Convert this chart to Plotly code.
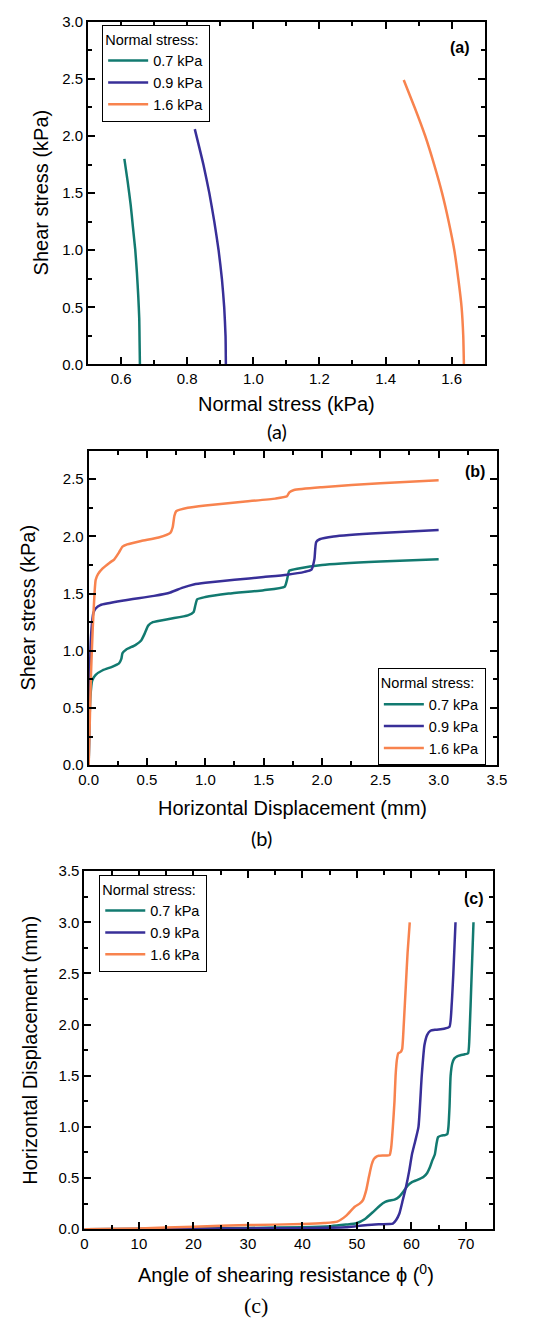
import plotly.graph_objects as go

W, H = 540, 1330
FONT = "Liberation Sans"

series_names = ["0.7 kPa", "0.9 kPa", "1.6 kPa"]
series_colors = ["#127a70", "#382f98", "#f8834e"]

# ---- (a) shear stress vs normal stress ----
a_normal_07 = [0.657, 0.656, 0.655, 0.652, 0.648, 0.643, 0.636, 0.629, 0.620, 0.610]
a_shear_07 = [0.0, 0.2, 0.4, 0.6, 0.8, 1.0, 1.2, 1.4, 1.6, 1.8]

a_normal_09 = [0.917, 0.916, 0.912, 0.905, 0.895, 0.882, 0.867, 0.849, 0.823]
a_shear_09 = [0.0, 0.25, 0.5, 0.75, 1.0, 1.25, 1.5, 1.75, 2.06]

a_normal_16 = [1.637, 1.635, 1.630, 1.620, 1.608, 1.591, 1.571, 1.547, 1.520, 1.488, 1.455]
a_shear_16 = [0.0, 0.25, 0.5, 0.75, 1.0, 1.25, 1.5, 1.75, 2.0, 2.25, 2.49]

# ---- (b) shear stress vs horizontal displacement ----
b_disp_07 = [0, 0.005, 0.015, 0.03, 0.06, 0.12, 0.2, 0.26, 0.28, 0.29, 0.32, 0.4,
             0.45, 0.48, 0.51, 0.55, 0.7, 0.85, 0.9, 0.915, 0.93, 1.0, 1.2, 1.5,
             1.68, 1.7, 1.72, 1.8, 2.0, 2.5, 3.0]
b_shear_07 = [0, 0.3, 0.6, 0.74, 0.79, 0.83, 0.86, 0.89, 0.93, 0.98, 1.01, 1.05,
              1.09, 1.15, 1.22, 1.25, 1.28, 1.31, 1.34, 1.40, 1.45, 1.47, 1.50, 1.53,
              1.56, 1.62, 1.70, 1.72, 1.75, 1.78, 1.80]

b_disp_09 = [0, 0.005, 0.01, 0.015, 0.025, 0.04, 0.06, 0.1, 0.3, 0.56, 0.7, 0.8,
             0.9, 1.0, 1.25, 1.5, 1.7, 1.85, 1.91, 1.935, 1.95, 1.98, 2.1, 2.5, 3.0]
b_shear_09 = [0, 0.4, 0.75, 1.0, 1.2, 1.33, 1.37, 1.40, 1.44, 1.48, 1.51, 1.55,
              1.58, 1.595, 1.62, 1.645, 1.665, 1.69, 1.71, 1.80, 1.95, 1.975, 2.0, 2.03, 2.055]

b_disp_16 = [0, 0.01, 0.02, 0.035, 0.05, 0.06, 0.08, 0.12, 0.18, 0.22, 0.26, 0.29,
             0.33, 0.45, 0.6, 0.70, 0.72, 0.735, 0.75, 0.85, 1.0, 1.3, 1.6, 1.70,
             1.72, 1.76, 2.0, 2.5, 3.0]
b_shear_16 = [0, 0.4, 0.8, 1.2, 1.5, 1.62, 1.67, 1.72, 1.77, 1.80, 1.86, 1.91,
              1.93, 1.96, 1.99, 2.03, 2.08, 2.18, 2.22, 2.25, 2.27, 2.30, 2.33, 2.35,
              2.385, 2.405, 2.43, 2.465, 2.49]

# ---- (c) horizontal displacement vs angle of shearing resistance ----
c_angle_07 = [0, 10, 20, 30, 40, 45.2, 48, 49.9, 51.5, 53, 54.2, 55.2, 56.0, 56.9,
              57.8, 58.7, 59.4, 60.1, 61.0, 62.2, 62.9, 63.4, 63.9, 64.3, 64.6, 64.9,
              65.5, 66.2, 66.6, 66.8, 67.0, 67.2, 67.5, 67.9, 68.4, 69.0, 69.8, 70.4,
              70.7, 71.0, 71.4]
c_disp_07 = [0, 0.003, 0.008, 0.012, 0.02, 0.03, 0.045, 0.058, 0.1, 0.17, 0.23, 0.267,
             0.28, 0.29, 0.32, 0.38, 0.43, 0.46, 0.48, 0.51, 0.55, 0.605, 0.68, 0.73,
             0.83, 0.9, 0.915, 0.92, 0.93, 1.0, 1.2, 1.5, 1.62, 1.67, 1.69, 1.70, 1.71,
             1.72, 1.95, 2.4, 3.0]

c_angle_09 = [0, 10, 20, 30, 40, 45, 48, 50, 52, 54, 56, 56.6, 57.2, 57.8, 58.4, 59.0,
              59.6, 60.1, 60.7, 61.3, 61.9, 62.4, 62.9, 63.5, 64.5, 66.0, 67.0, 67.4,
              67.7, 68.1]
c_disp_09 = [0, 0.002, 0.005, 0.008, 0.01, 0.015, 0.02, 0.03, 0.04, 0.048, 0.05, 0.055,
             0.09, 0.154, 0.28, 0.41, 0.57, 0.73, 0.86, 1.0, 1.5, 1.8, 1.9, 1.94, 1.95,
             1.96, 1.98, 2.2, 2.5, 3.0]

c_angle_16 = [0, 10, 20, 30, 40, 44, 46.4, 48, 49.6, 50.5, 51.1, 51.7, 52.2, 52.7, 53.1,
              53.6, 54.0, 55.0, 56.0, 56.3, 56.6, 56.9, 57.1, 57.35, 57.6, 58.0, 58.3,
              58.6, 59.0, 59.3, 59.7]
c_disp_16 = [0, 0.008, 0.025, 0.04, 0.05, 0.06, 0.074, 0.13, 0.22, 0.25, 0.283, 0.38,
             0.51, 0.63, 0.685, 0.71, 0.717, 0.72, 0.724, 0.80, 1.0, 1.25, 1.5, 1.66,
             1.72, 1.73, 1.76, 2.0, 2.4, 2.7, 3.0]

panels = [
    ("x", "y", "legend", [(a_normal_07, a_shear_07), (a_normal_09, a_shear_09), (a_normal_16, a_shear_16)]),
    ("x2", "y2", "legend2", [(b_disp_07, b_shear_07), (b_disp_09, b_shear_09), (b_disp_16, b_shear_16)]),
    ("x3", "y3", "legend3", [(c_angle_07, c_disp_07), (c_angle_09, c_disp_09), (c_angle_16, c_disp_16)]),
]

fig = go.Figure()
for xa, ya, lg, data in panels:
    for name, color, (xs, ys) in zip(series_names, series_colors, data):
        fig.add_trace(go.Scatter(
            x=xs, y=ys, name=name, mode="lines", xaxis=xa, yaxis=ya, legend=lg,
            line=dict(color=color, width=2.5, shape="spline", smoothing=0.5),
        ))


def fx(px):
    return px / W


def fy(py):
    return 1 - py / H


def axis(domain, rng, dtick, minor_dtick, anchor, fmt=None):
    d = dict(
        domain=domain, range=rng, dtick=dtick, tick0=0, anchor=anchor,
        showline=True, linecolor="black", linewidth=2, mirror="allticks",
        ticks="inside", ticklen=7, tickwidth=2, tickcolor="black",
        showgrid=False, zeroline=False,
        tickfont=dict(family=FONT, size=15, color="black"),
        minor=dict(ticks="inside", ticklen=4, tickwidth=2, tickcolor="black",
                   dtick=minor_dtick, tick0=0, showgrid=False),
    )
    if fmt:
        d["tickformat"] = fmt
    return d


dom_a = ([fx(81), fx(493)], [fy(360), fy(13)])
dom_b = ([fx(81.7), fx(505.7)], [fy(766), fy(447.3)])
dom_c = ([fx(77.3), fx(501.7)], [fy(1236), fy(873.3)])

LEG_SIZE = 14.5
legend_style = dict(
    bgcolor="white", bordercolor="black", borderwidth=1,
    font=dict(family=FONT, size=LEG_SIZE, color="black"),
    title=dict(text="Normal stress:", font=dict(family=FONT, size=LEG_SIZE, color="black")),
    xanchor="left", yanchor="top", tracegroupgap=0, itemwidth=40,
)

annotations = []


def text(x, y, s, size=20, family=FONT, angle=0, bold=False, xanchor="center"):
    if bold:
        s = "<b>" + s + "</b>"
    annotations.append(dict(
        x=fx(x), y=fy(y), xref="paper", yref="paper", text=s, showarrow=False,
        xanchor=xanchor, yanchor="middle", textangle=angle,
        font=dict(family=family, size=size, color="black"),
    ))


# axis titles
text(287, 400, "Normal stress (kPa)")
text(32, 186, "Shear stress (kPa)", angle=-90)
text(293.5, 809, "Horizontal Displacement (mm)")
text(19, 606, "Shear stress (kPa)", angle=-90)
text(287, 1281, "Angle of shearing resistance ϕ (<sup>0</sup>)")
text(20, 1055, "Horizontal Displacement (mm)", angle=-90)

# panel tags
text(467.5, 38.5, "(a)", size=16, bold=True)
text(482.5, 468.3, "(b)", size=16, bold=True)
text(481.7, 900.8, "(c)", size=16, bold=True)

# captions
text(277, 427, "(a)", size=20, family="Lato")
text(261, 840, "(b)", size=20, family="Lato")
text(255, 1313, "(c)", size=22, family="Liberation Serif")

fig.update_layout(
    width=W, height=H, margin=dict(l=0, r=0, t=0, b=0),
    paper_bgcolor="white", plot_bgcolor="white",
    xaxis=axis(dom_a[0], [0.5, 1.7], 0.2, 0.1, "y", ".1f"),
    yaxis=axis(dom_a[1], [0, 3.0], 0.5, 0.25, "x", ".1f"),
    xaxis2=axis(dom_b[0], [0, 3.5], 0.5, 0.25, "y2", ".1f"),
    yaxis2=axis(dom_b[1], [0, 2.75], 0.5, 0.25, "x2", ".1f"),
    xaxis3=axis(dom_c[0], [0, 75], 10, 5, "y3"),
    yaxis3=axis(dom_c[1], [0, 3.5], 0.5, 0.25, "x3", ".1f"),
    legend=dict(legend_style, x=fx(95.7), y=fy(16)),
    legend2=dict(legend_style, x=fx(382), y=fy(668)),
    legend3=dict(legend_style, x=fx(92.7), y=fy(877)),
    annotations=annotations,
    showlegend=True,
)

fig.write_html("out.html")
